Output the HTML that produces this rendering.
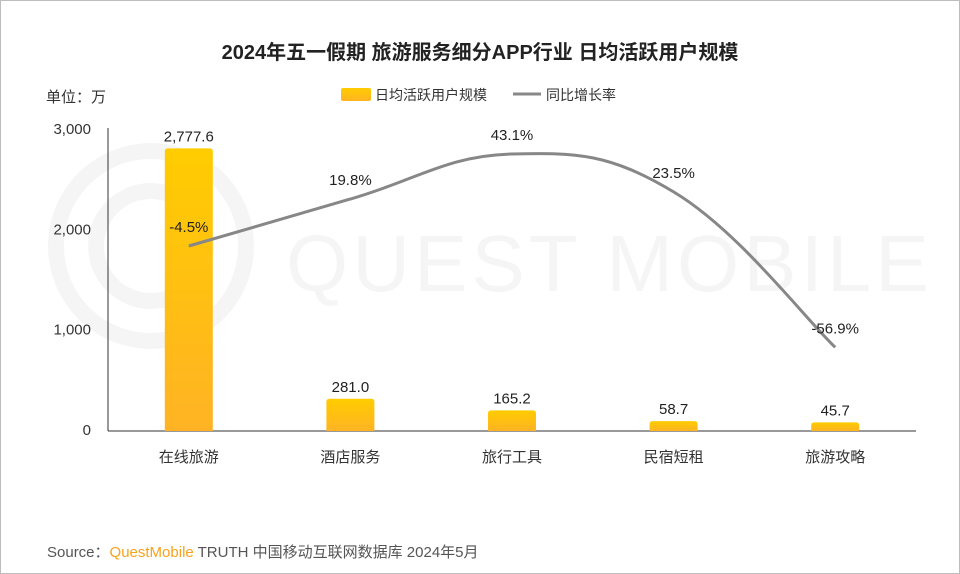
<!DOCTYPE html>
<html><head><meta charset="utf-8">
<style>
body{margin:0;background:#fff;}
#wrap{position:relative;width:958px;height:572px;border:1px solid #bdbdbd;overflow:hidden;font-family:"Liberation Sans","Noto Sans CJK SC",sans-serif;}
svg text{font-family:"Liberation Sans","Noto Sans CJK SC",sans-serif;}
</style></head>
<body>
<div id="wrap">
<svg id="chart" width="958" height="572">
<defs>
<linearGradient id="bg" x1="0" y1="0" x2="0" y2="1">
<stop offset="0" stop-color="#FFCC00"/><stop offset="1" stop-color="#FFB324"/>
</linearGradient>
</defs>
<g opacity="0.035">
<circle cx="150" cy="245" r="95" fill="none" stroke="#000" stroke-width="16"/>
<circle cx="150" cy="245" r="55" fill="none" stroke="#000" stroke-width="16"/>
<text x="285" y="290" font-size="80" fill="#000" letter-spacing="4">QUEST MOBILE</text>
</g>
<text x="479" y="58" text-anchor="middle" font-size="20" font-weight="bold" fill="#222">2024年五一假期 旅游服务细分APP行业 日均活跃用户规模</text>
<text x="45" y="101" font-size="15" fill="#333">单位：万</text>
<g>
<rect x="340" y="87" width="30" height="13" rx="2" fill="url(#bg)"/>
<text x="374" y="99" font-size="14" fill="#333">日均活跃用户规模</text>
<line x1="512" y1="93" x2="540" y2="93" stroke="#888" stroke-width="3"/>
<text x="545" y="99" font-size="14" fill="#333">同比增长率</text>
</g>
<g id="plot"></g>
<text x="46" y="556" font-size="15" fill="#555">Source：<tspan fill="#F7A21B">QuestMobile</tspan> TRUTH 中国移动互联网数据库 2024年5月</text>
</svg>
</div>
<script>
const categories=["在线旅游","酒店服务","旅行工具","民宿短租","旅游攻略"];
const users=[2777.6,281.0,165.2,58.7,45.7];
const growth=[-4.5,19.8,43.1,23.5,-56.9];
const yTicks=[0,1000,2000,3000];
const yTickLabels=["0","1,000","2,000","3,000"];

const X0=107,X1=915,Y0=430,Y3000=129;
const band=(X1-X0)/categories.length;
const xC=i=>X0+band*(i+0.5);
const yL=v=>Y0-(v/3000)*(Y0-Y3000);
const yR=v=>236.3-1.933*v;
const ns="http://www.w3.org/2000/svg";
const g=document.getElementById('plot');
function mk(t,a,txt){const e=document.createElementNS(ns,t);for(const k in a)e.setAttribute(k,a[k]);if(txt!==undefined)e.textContent=txt;g.appendChild(e);return e;}

let e=mk('line',{x1:X0,y1:Y3000-2,x2:X0,y2:Y0,stroke:'#333','stroke-width':1});


e=mk('line',{x1:X0,y1:Y0,x2:X1,y2:Y0,stroke:'#333','stroke-width':1});


yTicks.forEach((t,i)=>{
  const el=mk('text',{x:X0-17,y:yL(t)+4,'text-anchor':'end','font-size':15,fill:'#333'},yTickLabels[i]);
  
  
});
categories.forEach((c,i)=>{
  const w=48,x=xC(i)-w/2,y=yL(users[i])-4;
  const r=mk('path',{d:`M${x},${Y0}V${y+3}Q${x},${y} ${x+3},${y}H${x+w-3}Q${x+w},${y} ${x+w},${y+3}V${Y0}Z`,fill:'url(#bg)'});
  
  
  const lb=mk('text',{x:xC(i),y:y-7,'text-anchor':'middle','font-size':15,fill:'#222'},users[i].toLocaleString('en-US',{minimumFractionDigits:1,maximumFractionDigits:1}));
  
  
  const cl=mk('text',{x:xC(i),y:Y0+31,'text-anchor':'middle','font-size':15,fill:'#333'},c);
  
  
});
const pts=growth.map((v,i)=>[xC(i),yR(v)]);
let d=`M${pts[0][0]},${pts[0][1]}`;
for(let i=0;i<pts.length-1;i++){
  const p0=pts[i-1]||pts[i],p1=pts[i],p2=pts[i+1],p3=pts[i+2]||p2;
  const t=0.2;
  d+=` C${p1[0]+(p2[0]-p0[0])*t},${p1[1]+(p2[1]-p0[1])*t} ${p2[0]-(p3[0]-p1[0])*t},${p2[1]-(p3[1]-p1[1])*t} ${p2[0]},${p2[1]}`;
}
e=mk('path',{d:d,fill:'none',stroke:'#878787','stroke-width':3});


growth.forEach((v,i)=>{
  const t=mk('text',{x:xC(i),y:yR(v)-14,'text-anchor':'middle','font-size':15,fill:'#222'},v.toFixed(1)+'%');
  
  
});
</script>
</body></html>
